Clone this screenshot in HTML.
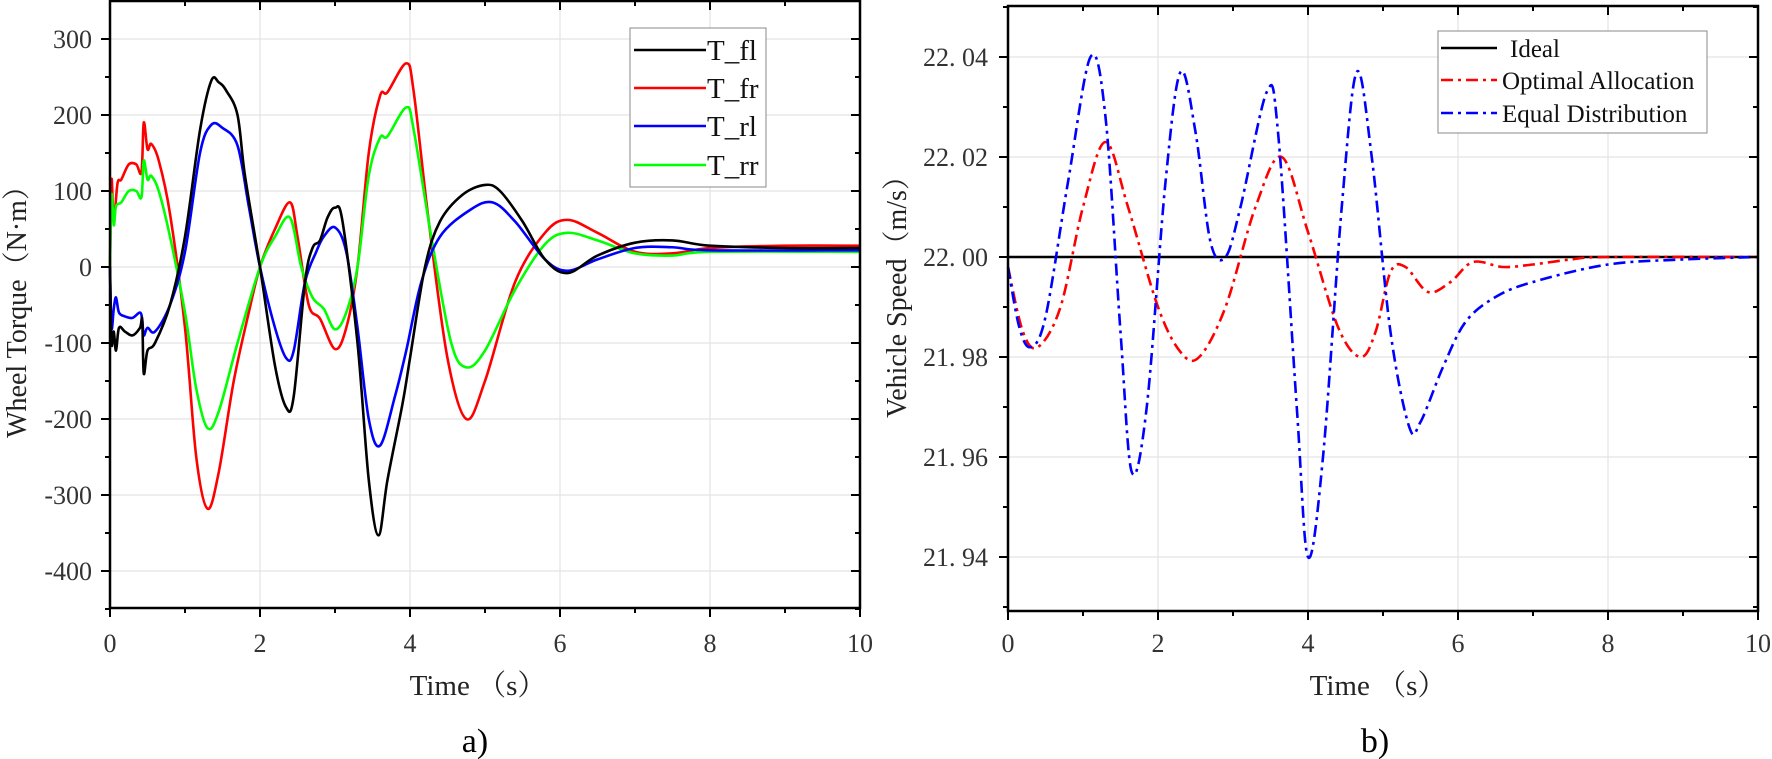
<!DOCTYPE html>
<html><head><meta charset="utf-8"><style>
body{margin:0;background:#fff;}
svg{display:block;}
text{font-family:"Liberation Serif","Noto Serif CJK SC",serif;}
</style></head><body>
<svg id="s" width="1772" height="759" viewBox="0 0 1772 759" xmlns="http://www.w3.org/2000/svg">
<g id="g"></g>
<g font-size="26" fill="#333" text-anchor="end" font-family="Liberation Serif, serif">
<text x="92" y="48">300</text><text x="92" y="124">200</text><text x="92" y="200">100</text>
<text x="92" y="276">0</text><text x="92" y="352">-100</text><text x="92" y="428">-200</text>
<text x="92" y="504">-300</text><text x="92" y="580">-400</text>
</g>
<g font-size="26" fill="#333" text-anchor="middle" font-family="Liberation Serif, serif">
<text x="110" y="652">0</text><text x="260" y="652">2</text><text x="410" y="652">4</text>
<text x="560" y="652">6</text><text x="710" y="652">8</text><text x="860" y="652">10</text>
<text x="1008" y="652">0</text><text x="1158" y="652">2</text><text x="1308" y="652">4</text>
<text x="1458" y="652">6</text><text x="1608" y="652">8</text><text x="1758" y="652">10</text>
</g>
<g font-size="26" fill="#333" text-anchor="end" font-family="Liberation Serif, serif">
<text x="988" y="66">22. 04</text><text x="988" y="166">22. 02</text><text x="988" y="266">22. 00</text>
<text x="988" y="366">21. 98</text><text x="988" y="466">21. 96</text><text x="988" y="566">21. 94</text>
</g>
<text x="478" y="695" font-size="29" fill="#222" text-anchor="middle">Time （s）</text>
<text x="1378" y="695" font-size="29" fill="#222" text-anchor="middle">Time （s）</text>
<text x="475" y="752" font-size="34" fill="#000" text-anchor="middle">a)</text>
<text x="1375" y="752" font-size="34" fill="#000" text-anchor="middle">b)</text>
<text transform="translate(26,305) rotate(-90)" font-size="28" fill="#222" text-anchor="middle">Wheel Torque（N·m）</text>
<text transform="translate(906,290) rotate(-90)" font-size="28" fill="#222" text-anchor="middle">Vehicle Speed（m/s）</text>
<rect x="630" y="28" width="136" height="159" fill="#fff" stroke="#888" stroke-width="1"/>
<g stroke-width="2.5">
<line x1="634" y1="50" x2="706" y2="50" stroke="#000"/>
<line x1="634" y1="88" x2="706" y2="88" stroke="#f00"/>
<line x1="634" y1="126" x2="706" y2="126" stroke="#00f"/>
<line x1="634" y1="165" x2="706" y2="165" stroke="#0f0"/>
</g>
<g font-size="29" fill="#111">
<text x="707" y="60">T_fl</text><text x="707" y="98">T_fr</text><text x="707" y="136">T_rl</text><text x="707" y="175">T_rr</text>
</g>
<rect x="1438" y="31" width="269" height="102" fill="#fff" stroke="#888" stroke-width="1"/>
<g stroke-width="2.5">
<line x1="1441" y1="48" x2="1497" y2="48" stroke="#000"/>
<line x1="1441" y1="80" x2="1497" y2="80" stroke="#f00" stroke-dasharray="12 5 3 5"/>
<line x1="1441" y1="113" x2="1497" y2="113" stroke="#00f" stroke-dasharray="12 5 3 5"/>
</g>
<g font-size="25" fill="#111">
<text x="1510" y="57">Ideal</text><text x="1502" y="89">Optimal Allocation</text><text x="1502" y="122">Equal Distribution</text>
</g>
</svg>
<script>
var NS="http://www.w3.org/2000/svg",g=document.getElementById("g");
function el(t,a){var e=document.createElementNS(NS,t);for(var k in a)e.setAttribute(k,a[k]);g.appendChild(e);return e;}
function path(pts,fx,fy,col,dash){
 var P=pts.map(function(p){return [fx(p[0]),fy(p[1])];});
 var d="M"+P[0][0]+","+P[0][1];
 for(var i=0;i<P.length-1;i++){
  var p0=P[i-1]||P[i],p1=P[i],p2=P[i+1],p3=P[i+2]||p2;
  var c1=[p1[0]+(p2[0]-p0[0])/6,p1[1]+(p2[1]-p0[1])/6],c2=[p2[0]-(p3[0]-p1[0])/6,p2[1]-(p3[1]-p1[1])/6];
  d+=" C"+c1+" "+c2+" "+p2;
 }
 var a={d:d,fill:"none",stroke:col,"stroke-width":2.6,"stroke-linejoin":"round"};
 if(dash)a["stroke-dasharray"]=dash;
 el("path",a);
}
function frame(x0,x1,y0,y1,yt){
 for(var t=0;t<=10;t+=2){var x=x0+(x1-x0)*t/10;el("line",{x1:x,x2:x,y1:y0,y2:y1,stroke:"#e3e3e3","stroke-width":1.2});}
 yt.forEach(function(y){el("line",{x1:x0,x2:x1,y1:y,y2:y,stroke:"#e3e3e3","stroke-width":1.2});});
}
function axes(x0,x1,y0,y1,yt,ytm){
 el("rect",{x:x0,y:y0,width:x1-x0,height:y1-y0,fill:"none",stroke:"#000","stroke-width":2.5});
 for(var t=0;t<=10;t++){var x=x0+(x1-x0)*t/10,L=t%2?5:9;
  el("line",{x1:x,x2:x,y1:y1,y2:y1+L,stroke:"#000","stroke-width":2});
  el("line",{x1:x,x2:x,y1:y0,y2:y0+L,stroke:"#000","stroke-width":2});}
 yt.forEach(function(y){el("line",{x1:x0-9,x2:x0,y1:y,y2:y,stroke:"#000","stroke-width":2});el("line",{x1:x1-9,x2:x1,y1:y,y2:y,stroke:"#000","stroke-width":2});});
 ytm.forEach(function(y){el("line",{x1:x0-5,x2:x0,y1:y,y2:y,stroke:"#000","stroke-width":2});el("line",{x1:x1-5,x2:x1,y1:y,y2:y,stroke:"#000","stroke-width":2});});
}
var LY=[],LYm=[];for(var v=300;v>=-400;v-=100)LY.push(267-0.76*v);for(v=250;v>=-450;v-=100)LYm.push(267-0.76*v);
var RY=[],RYm=[];for(var k=4;k>=-6;k-=2)RY.push(257-k*50);for(k=5;k>=-7;k-=2)RYm.push(257-k*50);
frame(110,860,1,608,LY);frame(1008,1758,6,611,RY);
var lx=function(t){return 110+75*t},ly=function(v){return 267-0.76*v};
var rx=function(t){return 1008+75*t},ry=function(d){return 257-5*d};
path([[0,0],[0.02,115],[0.05,60],[0.1,110],[0.15,115],[0.25,135],[0.35,135],[0.42,125],[0.45,190],[0.5,155],[0.55,162],[0.65,140],[0.8,70],[1.0,-80],[1.15,-250],[1.3,-318],[1.45,-270],[1.65,-150],[1.85,-60],[2.0,0],[2.2,50],[2.4,85],[2.5,40],[2.65,-50],[2.8,-68],[3.0,-108],[3.15,-80],[3.3,0],[3.45,150],[3.6,225],[3.7,230],[3.95,268],[4.05,230],[4.25,60],[4.5,-120],[4.75,-200],[5.0,-150],[5.4,-20],[5.8,45],[6.1,62],[6.5,45],[7.0,20],[7.5,18],[8,25],[9,28],[10,28]],lx,ly,"#f00");
path([[0,0],[0.02,95],[0.05,55],[0.08,80],[0.15,85],[0.25,100],[0.35,100],[0.42,92],[0.45,140],[0.5,115],[0.55,120],[0.65,100],[0.8,40],[1.0,-60],[1.15,-160],[1.3,-212],[1.45,-190],[1.7,-100],[2.0,0],[2.2,40],[2.4,65],[2.55,0],[2.7,-40],[2.85,-55],[3.0,-82],[3.15,-60],[3.3,0],[3.45,120],[3.6,170],[3.7,172],[3.95,210],[4.05,180],[4.3,30],[4.55,-100],[4.75,-132],[5.0,-110],[5.4,-30],[5.8,30],[6.1,45],[6.5,35],[7,18],[7.5,15],[8,20],[10,20]],lx,ly,"#0f0");
path([[0,0],[0.02,-80],[0.05,-55],[0.08,-40],[0.12,-60],[0.2,-65],[0.3,-67],[0.4,-60],[0.43,-70],[0.45,-90],[0.5,-80],[0.6,-85],[0.8,-50],[1.0,20],[1.2,150],[1.35,187],[1.5,183],[1.7,160],[1.85,80],[2.0,0],[2.2,-80],[2.35,-120],[2.45,-110],[2.6,-20],[2.75,20],[2.85,40],[3.0,52],[3.15,20],[3.3,-80],[3.45,-200],[3.6,-235],[3.8,-170],[3.95,-110],[4.15,-20],[4.4,40],[4.8,75],[5.1,85],[5.4,60],[5.8,10],[6.1,-5],[6.5,10],[7,25],[7.5,26],[8,22],[10,22]],lx,ly,"#00f");
path([[0,0],[0.02,-100],[0.05,-85],[0.08,-110],[0.12,-80],[0.2,-85],[0.3,-90],[0.4,-80],[0.43,-70],[0.45,-140],[0.5,-110],[0.6,-100],[0.8,-50],[1.0,40],[1.2,180],[1.35,245],[1.45,243],[1.55,232],[1.7,200],[1.8,120],[2.0,0],[2.2,-130],[2.35,-185],[2.45,-170],[2.6,-20],[2.7,25],[2.8,35],[2.9,65],[3.0,78],[3.1,60],[3.3,-100],[3.45,-280],[3.58,-353],[3.7,-280],[3.9,-180],[4.0,-120],[4.2,0],[4.4,60],[4.7,95],[5.0,108],[5.2,100],[5.5,60],[5.8,10],[6.1,-8],[6.5,15],[7.0,32],[7.5,35],[8,28],[9,25],[10,25]],lx,ly,"#000");
el("line",{x1:1008,x2:1758,y1:257,y2:257,stroke:"#000","stroke-width":2.6});
path([[0,-2],[0.2,-15],[0.4,-18],[0.7,-10],[1.0,10],[1.3,23],[1.6,10],[2.0,-10],[2.3,-19],[2.55,-20],[2.9,-10],[3.3,10],[3.65,20],[4.0,5],[4.4,-14],[4.7,-20],[4.9,-15],[5.1,-3],[5.3,-2],[5.6,-7],[5.9,-5],[6.2,-1],[6.6,-2],[7,-1.5],[7.5,-0.5],[8,0],[10,0]],rx,ry,"#f00","12 5 3 5");
path([[0,-2],[0.15,-14],[0.3,-18],[0.5,-12],[0.8,15],[1.1,40],[1.3,28],[1.5,-15],[1.65,-43],[1.85,-30],[2.1,15],[2.3,37],[2.5,25],[2.7,3],[2.9,0],[3.1,10],[3.45,33],[3.6,25],[3.85,-30],[4.0,-60],[4.2,-40],[4.45,10],[4.65,37],[4.85,20],[5.1,-15],[5.35,-34],[5.5,-33],[5.8,-22],[6.1,-13],[6.5,-8],[7,-5],[8,-1.5],[9,-0.5],[10,0]],rx,ry,"#00f","12 5 3 5");
axes(110,860,1,608,LY,LYm);axes(1008,1758,6,611,RY,RYm);
</script>
</body></html>
